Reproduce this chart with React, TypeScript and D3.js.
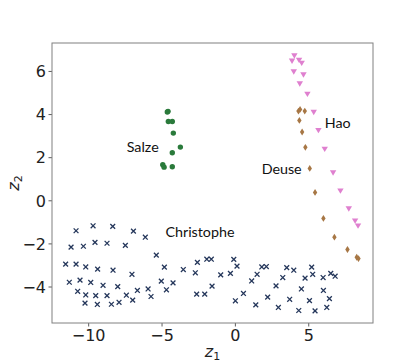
import React, { useRef, useEffect } from "react";
import * as d3 from "d3";

// Hao (pink, triangle down)
const haoX = [4.02, 3.86, 4.34, 4.52, 3.98, 4.64, 4.39, 4.91, 5.34, 5.66, 6.09, 6.66, 7.16, 7.73, 8.16, 8.36];
const haoY = [6.73, 6.49, 6.53, 6.39, 5.99, 5.85, 5.43, 4.95, 4.11, 3.27, 2.4, 1.3, 0.46, -0.37, -0.93, -1.16];

// Deuse (brown, thin diamond)
const deuseX = [4.3, 4.41, 4.73, 4.36, 4.55, 4.77, 5.07, 5.43, 6.0, 6.75, 7.64, 8.27, 8.39];
const deuseY = [4.16, 4.24, 4.16, 3.73, 3.19, 2.48, 1.5, 0.39, -0.82, -1.69, -2.26, -2.62, -2.68];

// Salze (green, circle)
const salzeX = [-4.64, -4.59, -4.57, -4.3, -4.23, -3.75, -4.3, -4.95, -4.86, -4.3];
const salzeY = [4.12, 4.15, 3.68, 3.68, 3.14, 2.49, 2.23, 1.67, 1.56, 1.58];

// Christophe (navy, x)
const chrisX = [
  -9.7, -8.36, -10.86, -6.95, -6.14, -9.57, -8.75, -11.2, -10.36, -7.5, -5.39, -2.59, -1.95, -1.64, -0.11,
  -11.57, -10.86, -10.2, -9.39, -8.34, -4.84, -3.55, -2.73, 0.11, 1.8, 2.11, 3.5, 3.98, 5.2,
  -7.05, -1.0, -0.34, 1.48, 3.23, 4.75, 5.27, 5.98, 6.5, 6.8,
  -11.32, -10.59, -9.86, -9.02, -8.02, -5.05, -4.25, 1.11, -1.59, 2.77,
  -10.75, -10.2, -9.52, -8.75, -7.43, -6.68, -5.95, -5.75, -4.7, -2.64, -2.09, 0.55, 2.2, 3.7, 4.5, 6.0, 6.41,
  -10.25, -9.41, -8.45, -7.93, -7.0, 0.0, 1.39, 2.93, 4.32, 5.05, 5.43, 6.23,
];
const chrisY = [
  -1.16, -1.19, -1.39, -1.41, -1.69, -1.93, -1.97, -2.15, -2.11, -2.07, -2.52, -2.86, -2.71, -2.71, -2.72,
  -2.94, -2.94, -3.07, -3.17, -3.22, -3.08, -3.19, -3.34, -3.03, -3.07, -3.05, -3.1, -3.22, -3.08,
  -3.41, -3.44, -3.37, -3.41, -3.56, -3.59, -3.41, -3.56, -3.37, -3.5,
  -3.78, -3.68, -3.79, -3.92, -3.98, -3.73, -3.81, -3.72, -3.96, -3.95,
  -4.2, -4.37, -4.4, -4.4, -4.38, -4.16, -4.09, -4.44, -4.13, -4.33, -4.33, -4.3, -4.47, -4.57, -4.09, -4.16, -4.54,
  -4.75, -4.81, -4.8, -4.71, -4.61, -4.64, -4.83, -4.95, -5.09, -4.63, -5.11, -4.95,
];

const xTicks = [-10, -5, 0, 5];
const yTicks = [-4, -2, 0, 2, 4, 6];

const labels = [
  { text: "Hao", x: 6.09, y: 3.62 },
  { text: "Deuse", x: 1.79, y: 1.46 },
  { text: "Salze", x: -7.41, y: 2.51 },
  { text: "Christophe", x: -4.77, y: -1.47 },
];

const W = 415;
const H = 364;

export default function App() {
  const ref = useRef<SVGSVGElement>(null);

  useEffect(() => {
    const svg = d3.select(ref.current);
    svg.selectAll("*").remove();

    const left = 52;
    const right = 373;
    const top = 43;
    const bottom = 323;

    const x = d3.scaleLinear().domain([-12.5, 9.38]).range([left, right]);
    const y = d3.scaleLinear().domain([-5.67, 7.32]).range([bottom, top]);

    const tickFont = "DejaVu Sans, sans-serif";

    // x axis
    const xAxis = svg.append("g").attr("transform", `translate(0,${bottom})`);
    xTicks.forEach((t) => {
      xAxis.append("line").attr("x1", x(t)).attr("x2", x(t)).attr("y1", 0).attr("y2", 3.5)
        .attr("stroke", "#333").attr("stroke-width", 0.8);
      xAxis.append("text").attr("x", x(t)).attr("y", 18).attr("text-anchor", "middle")
        .attr("font-family", tickFont).attr("font-size", 16).attr("fill", "#222")
        .text(t < 0 ? "\u2212" + Math.abs(t) : String(t));
    });

    // y axis
    const yAxis = svg.append("g").attr("transform", `translate(${left},0)`);
    yTicks.forEach((t) => {
      yAxis.append("line").attr("x1", -3.5).attr("x2", 0).attr("y1", y(t)).attr("y2", y(t))
        .attr("stroke", "#333").attr("stroke-width", 0.8);
      yAxis.append("text").attr("x", -6).attr("y", y(t)).attr("dy", "0.36em").attr("text-anchor", "end")
        .attr("font-family", tickFont).attr("font-size", 16).attr("fill", "#222")
        .text(t < 0 ? "\u2212" + Math.abs(t) : String(t));
    });

    // axis labels
    const xl = svg.append("text").attr("x", (left + right) / 2).attr("y", 357).attr("text-anchor", "middle")
      .attr("font-family", tickFont).attr("font-size", 16).attr("fill", "#222");
    xl.append("tspan").attr("font-style", "italic").text("z");
    xl.append("tspan").attr("font-size", 11).attr("dy", 3).text("1");

    const yl = svg.append("text").attr("transform", `translate(19,${(top + bottom) / 2}) rotate(-90)`)
      .attr("text-anchor", "middle").attr("font-family", tickFont).attr("font-size", 16).attr("fill", "#222");
    yl.append("tspan").attr("font-style", "italic").text("z");
    yl.append("tspan").attr("font-size", 11).attr("dy", 3).text("2");

    const plot = svg.append("g");

    // Christophe x markers
    const navy = "#25375b";
    chrisX.forEach((cx, i) => {
      const px = x(cx);
      const py = y(chrisY[i]);
      const s = 2.4;
      plot.append("path")
        .attr("d", `M${px - s},${py - s}L${px + s},${py + s}M${px - s},${py + s}L${px + s},${py - s}`)
        .attr("stroke", navy).attr("stroke-width", 1.3).attr("fill", "none");
    });

    // Salze circles
    salzeX.forEach((cx, i) => {
      plot.append("circle").attr("cx", x(cx)).attr("cy", y(salzeY[i])).attr("r", 2.7).attr("fill", "#2a7a3b");
    });

    // Deuse diamonds
    deuseX.forEach((cx, i) => {
      const px = x(cx);
      const py = y(deuseY[i]);
      plot.append("path")
        .attr("d", `M${px},${py - 3.4}L${px + 2.2},${py}L${px},${py + 3.4}L${px - 2.2},${py}Z`)
        .attr("fill", "#a77745");
    });

    // Hao triangles down
    haoX.forEach((cx, i) => {
      const px = x(cx);
      const py = y(haoY[i]);
      plot.append("path")
        .attr("d", `M${px - 3.2},${py - 2.4}L${px + 3.2},${py - 2.4}L${px},${py + 3}Z`)
        .attr("fill", "#df80cf");
    });

    // labels
    labels.forEach((l) => {
      plot.append("text").attr("x", x(l.x)).attr("y", y(l.y)).attr("dy", "0.35em")
        .attr("font-family", "Lato, sans-serif").attr("font-size", 14.3).attr("fill", "#111")
        .text(l.text);
    });

    // frame
    svg.append("rect").attr("x", left).attr("y", top).attr("width", right - left).attr("height", bottom - top)
      .attr("fill", "none").attr("stroke", "#808080").attr("stroke-width", 1);
  }, []);

  return (
    <svg
      ref={ref}
      width={W}
      height={H}
      style={{ position: "absolute", left: 0, top: 0, background: "#fff" }}
    />
  );
}
